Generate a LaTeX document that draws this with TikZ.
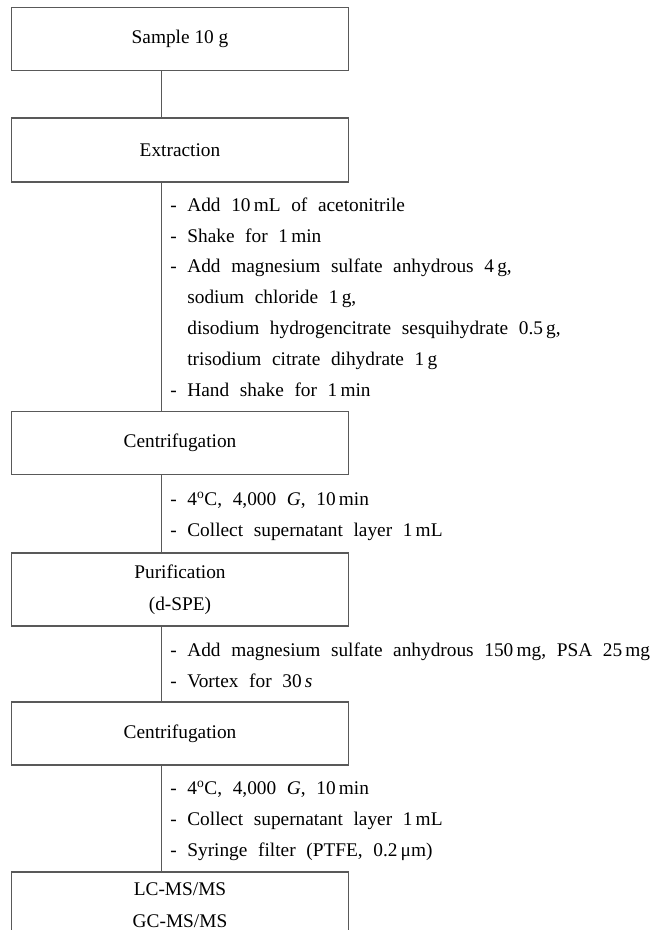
\documentclass[tikz,border=0pt]{standalone}
\usepackage{fontspec}
\setmainfont{Liberation Serif}
\usetikzlibrary{positioning}

\newcommand{\boxfont}{\fontsize{14.5}{24}\selectfont}
\newcommand{\notefont}{\fontsize{14.5}{23.1}\selectfont\spaceskip=0.55em\relax}

\tikzset{
  stepbox/.style={draw=black!65, line width=0.8pt, minimum width=252.75pt, minimum height=47.25pt, inner sep=0pt, align=center, font=\boxfont},
  note/.style={anchor=base west, inner sep=0pt, align=left, font=\notefont},
  link/.style={draw=black!65, line width=0.8pt}
}

\begin{document}
\begin{tikzpicture}[x=0.75pt, y=-0.75pt]
			\useasboundingbox (0,0) rectangle (661,930);

			\node[stepbox] (sample) at (180,38.75) {Sample 10 g};
			\node[stepbox, minimum height=48pt] (extract) at (180,150) {Extraction};
			% base anchor of a note = baseline of its last line
			\node[note] (extnote) at (170,396) {- Add 10\,mL of acetonitrile\\
				- Shake for 1\,min\\
				- Add magnesium sulfate anhydrous 4\,g,\\
				\hphantom{-} sodium chloride 1\,g,\\
				\hphantom{-} disodium hydrogencitrate sesquihydrate 0.5\,g,\\
				\hphantom{-} trisodium citrate dihydrate 1\,g\\
				- Hand shake for 1\,min};
			\node[stepbox] (cent1) at (180,443.25) {Centrifugation};
			\node[note] (cent1note) at (170,536) {- 4\textsuperscript{o}C, 4,000 \textit{G}, 10\,min\\
				- Collect supernatant layer 1\,mL};
			\node[stepbox, minimum height=54.75pt] (purif) at (180,589.5) {Purification\\(d-SPE)};
			\node[note] (purifnote) at (170,687) {- Add magnesium sulfate anhydrous 150\,mg, PSA 25\,mg\\
				- Vortex for 30\,\textit{s}};
			\node[stepbox] (cent2) at (180,733.5) {Centrifugation};
			\node[note] (cent2note) at (170,856) {- 4\textsuperscript{o}C, 4,000 \textit{G}, 10\,min\\
				- Collect supernatant layer 1\,mL\\
				- Syringe filter (PTFE, 0.2\,μm)};
			\node[stepbox, minimum height=49.5pt] (analysis) at (180,905) {LC-MS/MS\\GC-MS/MS};

			\draw[link] ([xshift=-13.7pt]sample.south) -- ([xshift=-13.7pt]extract.north);
			\draw[link] ([xshift=-13.7pt]extract.south) -- ([xshift=-13.7pt]cent1.north);
			\draw[link] ([xshift=-13.7pt]cent1.south) -- ([xshift=-13.7pt]purif.north);
			\draw[link] ([xshift=-13.7pt]purif.south) -- ([xshift=-13.7pt]cent2.north);
			\draw[link] ([xshift=-13.7pt]cent2.south) -- ([xshift=-13.7pt]analysis.north);
		\end{tikzpicture}
\end{document}
